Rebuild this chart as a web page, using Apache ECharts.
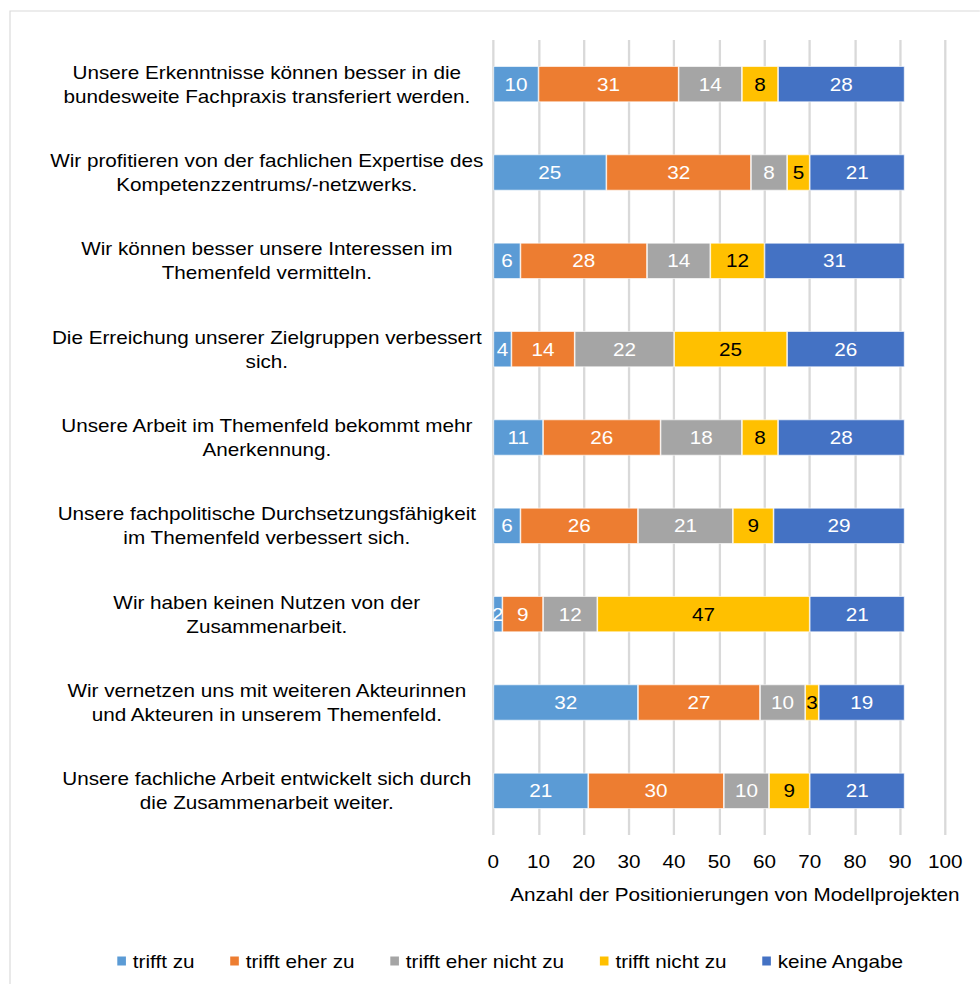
<!DOCTYPE html>
<html>
<head>
<meta charset="utf-8">
<script src="https://cdn.jsdelivr.net/npm/echarts@6/dist/echarts.min.js"></script>
<style>
  html, body { margin: 0; padding: 0; background: #fff; overflow: hidden; }
  /* the reference is a slightly widened export, so the chart is drawn narrower and stretched */
  #chart { width: 852px; height: 984px; transform: scaleX(1.15); transform-origin: 0 0; }
</style>
</head>
<body>
<div id="chart"></div>
<script>
const categories = [
  "Unsere Erkenntnisse können besser in die\nbundesweite Fachpraxis transferiert werden.",
  "Wir profitieren von der fachlichen Expertise des\nKompetenzzentrums/-netzwerks.",
  "Wir können besser unsere Interessen im\nThemenfeld vermitteln.",
  "Die Erreichung unserer Zielgruppen verbessert\nsich.",
  "Unsere Arbeit im Themenfeld bekommt mehr\nAnerkennung.",
  "Unsere fachpolitische Durchsetzungsfähigkeit\nim Themenfeld verbessert sich.",
  "Wir haben keinen Nutzen von der\nZusammenarbeit.",
  "Wir vernetzen uns mit weiteren Akteurinnen\nund Akteuren in unserem Themenfeld.",
  "Unsere fachliche Arbeit entwickelt sich durch\ndie Zusammenarbeit weiter.",
];

const trifftZu = [10, 25, 6, 4, 11, 6, 2, 32, 21];
const trifftEherZu = [31, 32, 28, 14, 26, 26, 9, 27, 30];
const trifftEherNichtZu = [14, 8, 14, 22, 18, 21, 12, 10, 10];
const trifftNichtZu = [8, 5, 12, 25, 8, 9, 47, 3, 9];
const keineAngabe = [28, 21, 31, 26, 28, 29, 21, 19, 21];

const xTicks = [0, 10, 20, 30, 40, 50, 60, 70, 80, 90, 100];

const FONT = "Liberation Sans, Arial, sans-serif";

const seriesDefs = [
  { name: "trifft zu", data: trifftZu, color: "#5B9BD5", label: "#fff" },
  { name: "trifft eher zu", data: trifftEherZu, color: "#ED7D31", label: "#fff" },
  { name: "trifft eher nicht zu", data: trifftEherNichtZu, color: "#A5A5A5", label: "#fff" },
  { name: "trifft nicht zu", data: trifftNichtZu, color: "#FFC000", label: "#000" },
  { name: "keine Angabe", data: keineAngabe, color: "#4472C4", label: "#fff" },
];

const chart = echarts.init(document.getElementById("chart"), null, { renderer: "svg" });

const option = {
  backgroundColor: "#fff",
  animation: false,
  textStyle: { fontFamily: FONT },
  graphic: [
    {
      type: "rect",
      shape: { x: 8.7, y: 11, width: 1000, height: 1000 },
      style: { fill: "none", stroke: "#d9d9d9", lineWidth: 1 },
      silent: true,
    },
  ],
  legend: {
    left: 95,
    top: 947,
    itemWidth: 9.5,
    itemHeight: 11,
    itemGap: 29,
    icon: "rect",
    textStyle: { fontFamily: FONT, fontSize: 18, color: "#000" },
    data: seriesDefs.map((s) => s.name),
  },
  grid: {
    left: 429,
    right: 30,
    top: 40,
    bottom: 149,
  },
  xAxis: {
    type: "value",
    min: xTicks[0],
    max: xTicks[xTicks.length - 1],
    interval: 10,
    axisLine: { show: false },
    axisTick: { show: false },
    splitLine: { lineStyle: { color: "#d9d9d9", width: 2 } },
    axisLabel: { fontSize: 18, color: "#000", margin: 17, fontFamily: FONT },
    name: "Anzahl der Positionierungen von Modellprojekten",
    nameLocation: "middle",
    nameGap: 50,
    nameTextStyle: { fontSize: 18, color: "#000", fontFamily: FONT, padding: [0, 0, 0, 27] },
  },
  yAxis: {
    type: "category",
    inverse: true,
    data: categories,
    axisLine: { show: false },
    axisTick: { show: false },
    axisLabel: {
      fontSize: 18,
      color: "#000",
      align: "center",
      margin: 197,
      lineHeight: 24,
      fontFamily: FONT,
    },
  },
  series: seriesDefs.map((s) => ({
    name: s.name,
    type: "bar",
    stack: "total",
    barWidth: 36,
    data: s.data,
    itemStyle: { color: s.color, borderColor: "#fff", borderWidth: 0.6 },
    label: {
      show: true,
      position: "inside",
      color: s.label,
      fontSize: 18,
      fontFamily: FONT,
    },
  })),
};

chart.setOption(option);
</script>
</body>
</html>
